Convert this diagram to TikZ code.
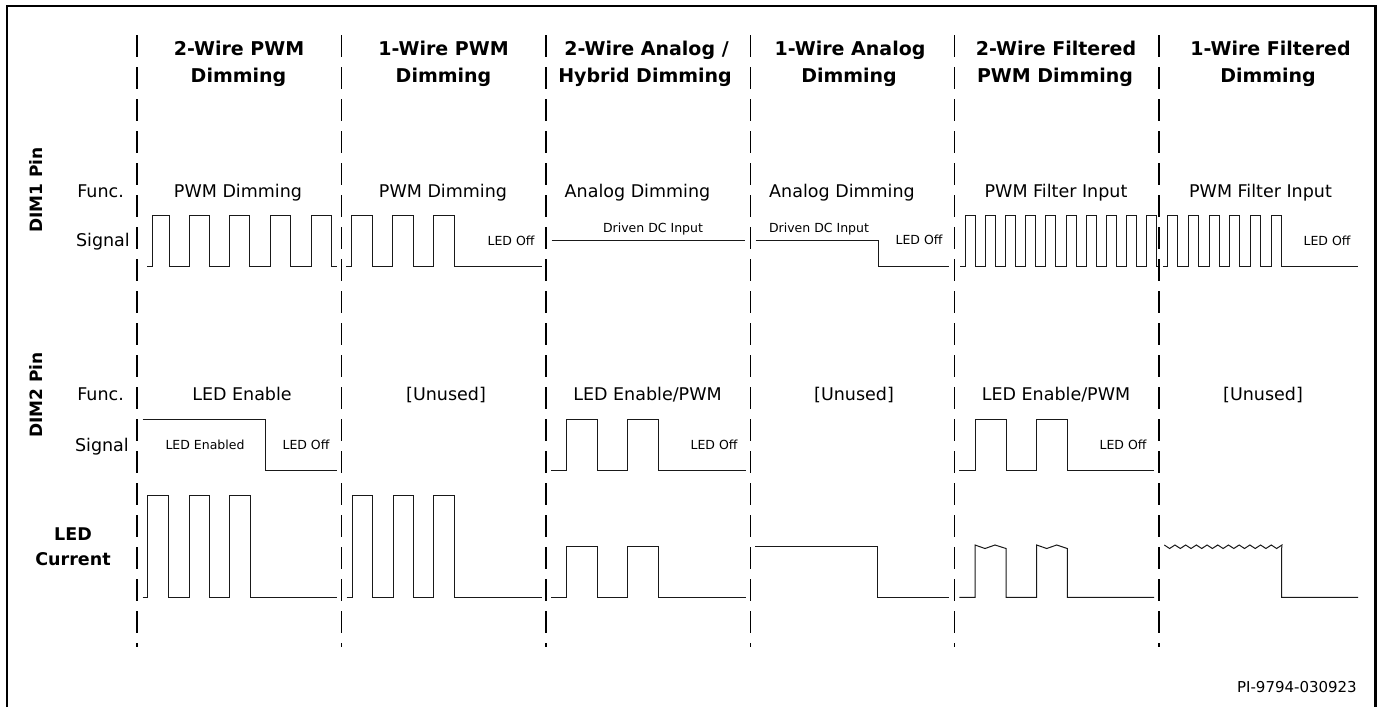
\documentclass[tikz,border=0pt]{standalone}
\usepackage{fontspec}
\setmainfont{DejaVu Sans}
\tikzset{
  hdr/.style={font=\fontsize{19}{23}\selectfont\bfseries, anchor=base, inner sep=0pt},
  fn/.style={font=\fontsize{17.5}{21}\selectfont, anchor=base, inner sep=0pt},
  sm/.style={font=\fontsize{12.5}{15}\selectfont, anchor=base, inner sep=0pt},
  lbl/.style={font=\fontsize{17.5}{21}\selectfont, anchor=base east, inner sep=0pt},
  side/.style={font=\fontsize{17}{21}\selectfont\bfseries, rotate=90, inner sep=0pt},
  cur/.style={font=\fontsize{17.5}{21}\selectfont\bfseries, anchor=base, inner sep=0pt},
  sig/.style={line width=1pt, line join=miter, draw=black!90},
  divider/.style={line width=1.2pt, dash pattern=on 22pt off 10pt},
  frameline/.style={line width=2.4pt},
}
\begin{document}
\begin{tikzpicture}[x=1pt,y=-1pt]
\useasboundingbox (0,0) rectangle (1384,707);
\fill[white] (0,0) rectangle (1384,707);
% frame
\coordinate (fbl) at (7,707);
\coordinate (ftl) at (7,6);
\coordinate (ftr) at (1375.5,6);
\coordinate (fbr) at (1375.5,707);
\draw[frameline] (fbl) -- (ftl) -- (ftr) -- (fbr);
% dividers
\foreach \i/\x in {1/137,2/341.5,3/546,4/750.5,5/954.8,6/1159}{
  \coordinate (d\i t) at (\x,35);
  \coordinate (d\i b) at (\x,647);
  \draw[divider] (d\i t) -- (d\i b);
}
% headers
\node[hdr] (h1a) at (239,55) {2-Wire PWM};
\node[hdr] (h1b) at (238.5,82) {Dimming};
\node[hdr] (h2a) at (443.5,55) {1-Wire PWM};
\node[hdr] (h2b) at (443.5,82) {Dimming};
\node[hdr] (h3a) at (646.5,55) {2-Wire Analog /};
\node[hdr] (h3b) at (645,82) {Hybrid Dimming};
\node[hdr] (h4a) at (850,55) {1-Wire Analog};
\node[hdr] (h4b) at (849,82) {Dimming};
\node[hdr] (h5a) at (1056,55) {2-Wire Filtered};
\node[hdr] (h5b) at (1055,82) {PWM Dimming};
\node[hdr] (h6a) at (1270.5,55) {1-Wire Filtered};
\node[hdr] (h6b) at (1268,82) {Dimming};
% side labels
\node[side] (dim1) at (36,190) {DIM1 Pin};
\node[side] (dim2) at (36,395) {DIM2 Pin};
\node[cur] (cur1) at (73,540) {LED};
\node[cur] (cur2) at (73,565) {Current};
\node[lbl] (f1) at (124,197) {Func.};
\node[lbl] (s1) at (130,246) {Signal};
\node[lbl] (f2) at (124,400) {Func.};
\node[lbl] (s2) at (129,451) {Signal};
% DIM1 func
\node[fn] (a1) at (238,197) {PWM Dimming};
\node[fn] (a2) at (443,197) {PWM Dimming};
\node[fn] (a3) at (637.5,197) {Analog Dimming};
\node[fn] (a4) at (842,197) {Analog Dimming};
\node[fn] (a5) at (1056,197) {PWM Filter Input};
\node[fn] (a6) at (1260.5,197) {PWM Filter Input};
% DIM2 func
\node[fn] (b1) at (242,400) {LED Enable};
\node[fn] (b2) at (446,400) {[Unused]};
\node[fn] (b3) at (647.5,400) {LED Enable/PWM};
\node[fn] (b4) at (854,400) {[Unused]};
\node[fn] (b5) at (1056,400) {LED Enable/PWM};
\node[fn] (b6) at (1263,400) {[Unused]};
% small labels
\node[sm] (o1) at (511,245) {LED Off};
\node[sm] (dc1) at (653,232) {Driven DC Input};
\node[sm] (dc2) at (819,232) {Driven DC Input};
\node[sm] (o2) at (919,244) {LED Off};
\node[sm] (o3) at (1327,245) {LED Off};
\node[sm] (en1) at (205,449) {LED Enabled};
\node[sm] (o4) at (306,449) {LED Off};
\node[sm] (o5) at (714,449) {LED Off};
\node[sm] (o6) at (1123,449) {LED Off};
\node[font=\fontsize{15}{18}\selectfont, anchor=base east, inner sep=0pt] (pi) at (1357,692) {PI-9794-030923};
% DIM1 signals
\draw[sig] (147.3,266) -| (152.3,215) -| (169,266) -| (189,215) -| (209.3,266) -| (229.7,215) -| (249.7,266) -| (270,215) -| (290.7,266) -| (311,215) -| (331.7,266) -- (336.7,266);
\draw[sig] (346,266) -| (351.7,215) -| (372.3,266) -| (392.7,215) -| (413.3,266) -| (433.3,215) -| (454,266) -- (541.7,266);
\draw[sig] (551.7,240) -- (745,240);
\draw[sig] (755.7,240) -| (878.3,266) -- (949.3,266);
\draw[sig] (960,266) \foreach \k in {0,...,9}{ -| ({965+20.2*\k},215) -| ({975+20.2*\k},266) } -- (1157,266);
\draw[sig] (1163,266) \foreach \k in {0,...,5}{ -| ({1167.7+20.7*\k},215) -| ({1177.7+20.7*\k},266) } -- (1358,266);
% DIM2 signals
\draw[sig] (142.7,419) -| (265.7,470) -- (336.7,470);
\draw[sig] (551,470) -| (566.7,419) -| (597.3,470) -| (627.7,419) -| (658.7,470) -- (745.7,470);
\draw[sig] (959.3,470) -| (975,419) -| (1006,470) -| (1036.7,419) -| (1067.3,470) -- (1154,470);
% LED current
\draw[sig] (142.7,597.3) -| (147.7,495) -| (168.3,597.3) -| (189,495) -| (209.3,597.3) -| (229.3,495) -| (250,597.3) -- (336.7,597.3);
\draw[sig] (346.7,597.3) -| (352.3,495) -| (372.3,597.3) -| (393.3,495) -| (413.3,597.3) -| (433.3,495) -| (454,597.3) -- (541.7,597.3);
\draw[sig] (551,597.3) -| (566.7,546.7) -| (597.3,597.3) -| (627.7,546.7) -| (658.7,597.3) -- (745.7,597.3);
\draw[sig] (755,546.7) -| (877.7,597.3) -- (949.3,597.3);
\draw[sig] (959.3,597.3) -- (975,597.3) -- (975,545) -- (985,548.5) -- (995,545) -- (1006,548.5) -- (1006,597.3) -- (1036.7,597.3) -- (1036.7,545) -- (1046.7,548.5) -- (1056.7,545) -- (1067.3,548.5) -- (1067.3,597.3) -- (1154,597.3);
\draw[sig] (1164.3,545) \foreach \k in {0,...,10}{ -- ({1169.6+10.7*\k},548.5) -- ({1174.95+10.7*\k},545) } -- (1281.7,548) -- (1281.7,597.3) -- (1358,597.3);
\end{tikzpicture}
\end{document}
